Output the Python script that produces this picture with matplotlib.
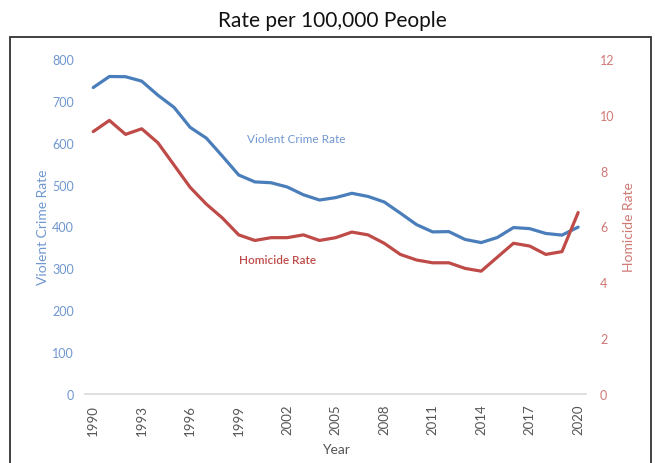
import numpy as np
import matplotlib.pyplot as plt
from matplotlib.patches import Rectangle

plt.rcParams['font.family'] = ['Lato', 'DejaVu Sans']

years = list(range(1990, 2021))
violent = [731.8, 758.2, 757.7, 747.1, 713.6, 684.5, 636.6, 611.0, 567.6, 523.0,
           506.5, 504.5, 494.4, 475.8, 463.2, 469.0, 479.3, 471.8, 458.6, 431.9,
           404.5, 387.1, 387.8, 369.1, 361.6, 373.7, 397.5, 394.9, 383.4, 379.4,
           398.5]
homicide = [9.4, 9.8, 9.3, 9.5, 9.0, 8.2, 7.4, 6.8, 6.3, 5.7,
            5.5, 5.6, 5.6, 5.7, 5.5, 5.6, 5.8, 5.7, 5.4, 5.0,
            4.8, 4.7, 4.7, 4.5, 4.4, 4.9, 5.4, 5.3, 5.0, 5.1,
            6.5]
xticks = list(range(1990, 2021, 3))

blue = '#4a7ebb'
red = '#be4b48'
blue_txt = '#7097cf'
red_txt = '#d07875'

fig = plt.figure(figsize=(6.55, 4.64), dpi=100)
ax = fig.add_axes([0.130, 0.1487, 0.765, 0.722])
ax2 = ax.twinx()

ax.plot(years, violent, color=blue, lw=2.3, solid_capstyle='round')
ax2.plot(years, homicide, color=red, lw=2.3, solid_capstyle='round')

ax.set_xlim(1989.5, 2020.5)
ax.set_ylim(0, 800)
ax2.set_ylim(0, 12)
ax.set_yticks(range(0, 801, 100))
ax2.set_yticks(range(0, 13, 2))
ax.set_xticks(xticks)
ax.set_xticklabels([str(y) for y in xticks], rotation=90, color='#555555', fontsize=9.5)

for a in (ax, ax2):
    for s in a.spines.values():
        s.set_visible(False)
ax.spines['bottom'].set_visible(True)
ax.spines['bottom'].set_color('#d9d9d9')
ax.spines['bottom'].set_linewidth(1.2)

ax.tick_params(axis='x', length=0, pad=7)
ax.tick_params(axis='y', length=0, pad=8, labelcolor=blue_txt, labelsize=9)
ax2.tick_params(axis='y', length=0, pad=10, labelcolor=red_txt, labelsize=9)

ax.set_ylabel('Violent Crime Rate', color=blue_txt, fontsize=10, labelpad=2)
ax2.set_ylabel('Homicide Rate', color=red_txt, fontsize=10, labelpad=6)
ax.set_xlabel('Year', color='#555555', fontsize=10, labelpad=6)

ax.text(1999.5, 610, 'Violent Crime Rate', color=blue_txt, fontsize=8.5, va='center')
ax.text(1999.0, 322, 'Homicide Rate', color=red, fontsize=8.5, va='center', fontweight='semibold')

fig.text(0.508, 0.955, 'Rate per 100,000 People', ha='center', va='center', fontsize=15, color='#111111')
fig.patches.append(Rectangle((10 / 655, -0.05), 641 / 655, 1.05 - 38 / 464, transform=fig.transFigure,
                             fill=False, edgecolor='#333333', lw=1.3))

fig.savefig('out.png', dpi=100)
